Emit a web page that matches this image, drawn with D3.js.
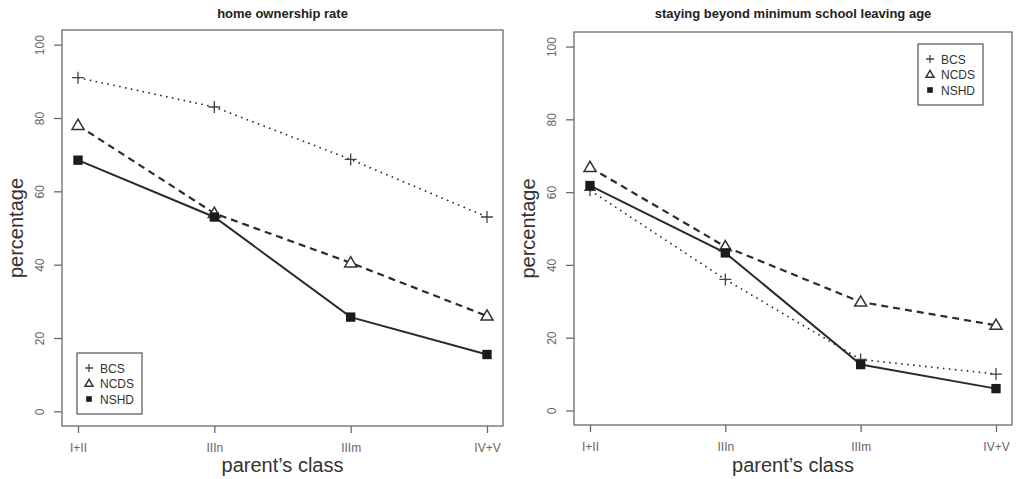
<!DOCTYPE html>
<html>
<head>
<meta charset="utf-8">
<script src="https://cdn.jsdelivr.net/npm/d3@7"></script>
<style>
  body { margin: 0; background: #fff; }
  svg { display: block; font-family: "Liberation Sans", Arial, sans-serif; }
</style>
</head>
<body>
<svg id="chart" width="1016" height="479"></svg>
<script>
// data
const categories = ["I+II", "IIIn", "IIIm", "IV+V"];
const yTicks = [0, 20, 40, 60, 80, 100];
const seriesNames = ["BCS", "NCDS", "NSHD"];

const homeBCS = [91, 83, 68.7, 53];
const homeNCDS = [78, 54, 40.5, 26];
const homeNSHD = [68.5, 53, 25.7, 15.5];

const schoolBCS = [60.5, 36, 14, 10];
const schoolNCDS = [66.8, 45, 29.8, 23.4];
const schoolNSHD = [61.8, 43.3, 12.6, 6];

const svg = d3.select("#chart");
const lineCol = "#2b2b2b";
const axisCol = "#6a6a6a";

// dash pattern per series
const dashes = { BCS: "1.6 4.4", NCDS: "7 5", NSHD: null };
const widths = { BCS: 1.6, NCDS: 2.2, NSHD: 2 };

function drawMarker(g, name, x, y, s) {
    if (name === "BCS") {
        g.append("path")
            .attr("d", `M${x - s},${y}H${x + s}M${x},${y - s}V${y + s}`)
            .attr("stroke", "#444").attr("stroke-width", 1.3).attr("fill", "none");
    } else if (name === "NCDS") {
        const h = s * 1.7;
        g.append("path")
            .attr("d", `M${x},${y - h * 0.6}L${x + s},${y + h * 0.4}L${x - s},${y + h * 0.4}Z`)
            .attr("stroke", "#333").attr("stroke-width", 1.5).attr("fill", "#fff");
    } else {
        g.append("rect")
            .attr("x", x - s * 0.78).attr("y", y - s * 0.78)
            .attr("width", s * 1.56).attr("height", s * 1.56)
            .attr("fill", "#1b1b1b");
    }
}

function drawPanel(box, title, data, legendPos) {
    const g = svg.append("g");

    const x = d3.scalePoint()
        .domain(categories)
        .range([box.x0 + 16, box.x1 - 16]);
    const y = d3.scaleLinear()
        .domain([-4, 104])
        .range([box.y1, box.y0]);

    // box round the plot region
    g.append("rect")
        .attr("x", box.x0).attr("y", box.y0)
        .attr("width", box.x1 - box.x0).attr("height", box.y1 - box.y0)
        .attr("fill", "none").attr("stroke", axisCol).attr("stroke-width", 1.3);

    // x axis
    const xa = g.append("g")
        .attr("transform", `translate(0,${box.y1})`)
        .call(d3.axisBottom(x).tickSize(7).tickPadding(10));
    xa.select(".domain").remove();
    xa.selectAll("line").attr("stroke", axisCol).attr("stroke-width", 1.3);
    xa.selectAll("text").attr("fill", "#666").style("font-size", "12px");

    // y axis, labels turned like R does
    const ya = g.append("g")
        .attr("transform", `translate(${box.x0},0)`)
        .call(d3.axisLeft(y).tickValues(yTicks).tickSize(8));
    ya.select(".domain").remove();
    ya.selectAll("line").attr("stroke", axisCol).attr("stroke-width", 1.3);
    ya.selectAll("text")
        .attr("transform", "rotate(-90)")
        .attr("x", 0).attr("y", -18).attr("dy", 0)
        .attr("text-anchor", "middle")
        .attr("fill", "#666").style("font-size", "12px");

    // title and axis titles
    g.append("text")
        .attr("x", (box.x0 + box.x1) / 2).attr("y", 18)
        .attr("text-anchor", "middle")
        .style("font-size", "13px").style("font-weight", "bold")
        .attr("fill", "#222").text(title);
    g.append("text")
        .attr("x", (box.x0 + box.x1) / 2).attr("y", 472)
        .attr("text-anchor", "middle")
        .style("font-size", "20px").attr("fill", "#333")
        .text("parent\u2019s class");
    g.append("text")
        .attr("transform", `translate(${box.x0 - 39},${(box.y0 + box.y1) / 2}) rotate(-90)`)
        .attr("text-anchor", "middle")
        .style("font-size", "20px").attr("fill", "#333")
        .text("percentage");

    const line = d3.line()
        .x((d, i) => x(categories[i]))
        .y(d => y(d));

    seriesNames.forEach((name, k) => {
        g.append("path")
            .datum(data[k])
            .attr("d", line)
            .attr("fill", "none")
            .attr("stroke", lineCol)
            .attr("stroke-width", widths[name])
            .attr("stroke-dasharray", dashes[name]);
    });
    seriesNames.forEach((name, k) => {
        data[k].forEach((v, i) => drawMarker(g, name, x(categories[i]), y(v), 6));
    });

    // legend
    const lg = g.append("g").attr("transform", `translate(${legendPos.x},${legendPos.y})`);
    lg.append("rect")
        .attr("width", 65).attr("height", 61)
        .attr("fill", "#fff").attr("stroke", "#444").attr("stroke-width", 1.1);
    seriesNames.forEach((name, k) => {
        const yy = 15 + k * 15.5;
        drawMarker(lg, name, 12, yy, name === "NSHD" ? 3.6 : 4);
        lg.append("text")
            .attr("x", 23).attr("y", yy + 4.5)
            .style("font-size", "12px").attr("fill", "#333")
            .text(name);
    });
}

drawPanel({ x0: 62, y0: 30, x1: 503, y1: 426 }, "home ownership rate",
    [homeBCS, homeNCDS, homeNSHD], { x: 77, y: 353 });
drawPanel({ x0: 574, y0: 32, x1: 1012, y1: 425 }, "staying beyond minimum school leaving age",
    [schoolBCS, schoolNCDS, schoolNSHD], { x: 918, y: 44 });
</script>
</body>
</html>
